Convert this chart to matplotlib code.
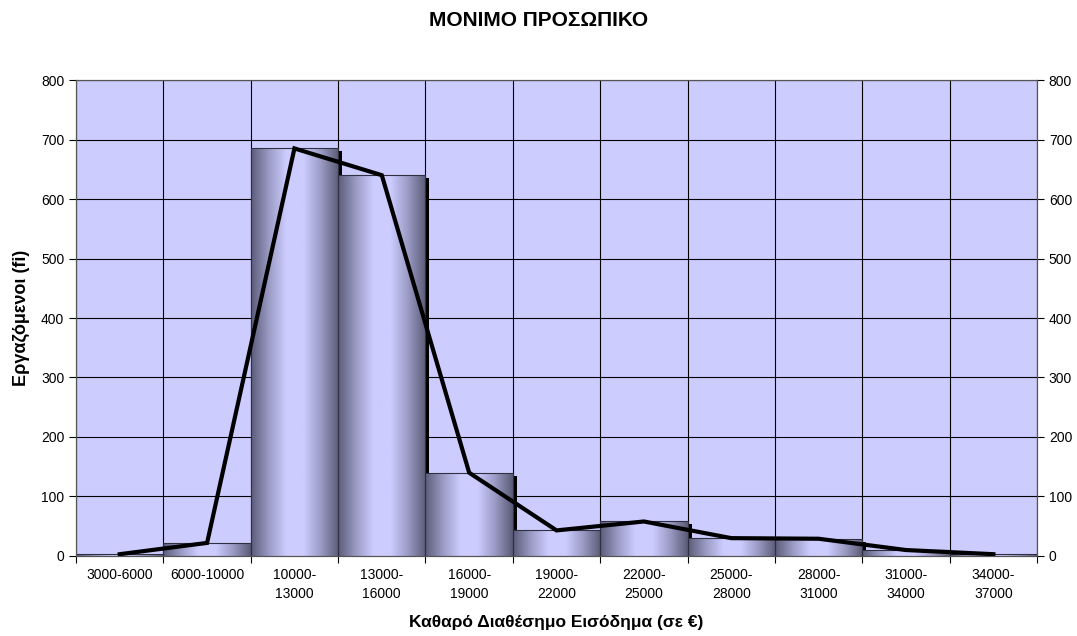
import numpy as np
import matplotlib.pyplot as plt
from matplotlib.colors import LinearSegmentedColormap
from matplotlib.patches import Rectangle

plt.rcParams['font.family'] = ['Liberation Sans', 'DejaVu Sans']

labels = ['3000-6000', '6000-10000', '10000-\n13000', '13000-\n16000', '16000-\n19000',
          '19000-\n22000', '22000-\n25000', '25000-\n28000', '28000-\n31000',
          '31000-\n34000', '34000-\n37000']
counts = [3, 22, 685, 640, 140, 43, 58, 30, 29, 10, 3]

bg = '#ccccff'
grad = LinearSegmentedColormap.from_list('g', ['#5c5c7a', '#9a9ac4', '#ccccff', '#ccccff', '#9a9ac4', '#5c5c78'])

fig = plt.figure(figsize=(10.77, 6.36), dpi=100)
ax = fig.add_axes([0.0706, 0.1258, 0.8923, 0.7484])
ax.set_facecolor(bg)
n = len(counts)
ax.set_xlim(0, n)
ax.set_ylim(0, 800)

# grid
ax.set_yticks(np.arange(0, 801, 100))
ax.set_xticks(np.arange(0, n + 1))
ax.set_xticks(np.arange(n) + 0.5, minor=True)
ax.set_xticklabels([''] * (n + 1))
ax.set_xticklabels(labels, minor=True, fontsize=10, linespacing=1.45)
ax.tick_params(axis='x', which='minor', length=0, pad=9)
ax.tick_params(axis='x', which='major', length=5, direction='out')
ax.tick_params(axis='y', length=5, labelsize=10)
ax.grid(True, which='major', color='black', linewidth=0.8, zorder=0)
ax.set_axisbelow(True)

gimg = np.linspace(0, 1, 200).reshape(1, -1)
for i, c in enumerate(counts):
    # shadow
    ax.add_patch(Rectangle((i + 0.045, 0), 1, max(c - 5, 0), facecolor='black',
                           edgecolor='none', zorder=2))
    im = ax.imshow(gimg, cmap=grad, extent=(i, i + 1, 0, c), aspect='auto', zorder=3)
    r = Rectangle((i, 0), 1, c, facecolor='none', edgecolor='#303040', linewidth=0.8, zorder=4)
    ax.add_patch(r)
    im.set_clip_path(r)

ax.plot(np.arange(n) + 0.5, counts, color='black', linewidth=3, zorder=5,
        solid_joinstyle='miter')
ax.set_xlim(0, n)
ax.set_ylim(0, 800)

ax2 = ax.twinx()
ax2.set_ylim(0, 800)
ax2.set_yticks(np.arange(0, 801, 100))
ax2.tick_params(axis='y', length=5, labelsize=10)

for a in (ax, ax2):
    for s in a.spines.values():
        s.set_color('#555555')

ax.set_xlabel('Καθαρό Διαθέσημο Εισόδημα (σε €)', fontsize=12.5, fontweight='bold', labelpad=10)
ax.set_ylabel('Εργαζόμενοι (fi)', fontsize=13, fontweight='bold', labelpad=8)
fig.text(0.5, 0.967, 'ΜΟΝΙΜΟ ΠΡΟΣΩΠΙΚΟ', ha='center', va='center', fontsize=15, fontweight='bold')

fig.savefig('out.png', dpi=100)
